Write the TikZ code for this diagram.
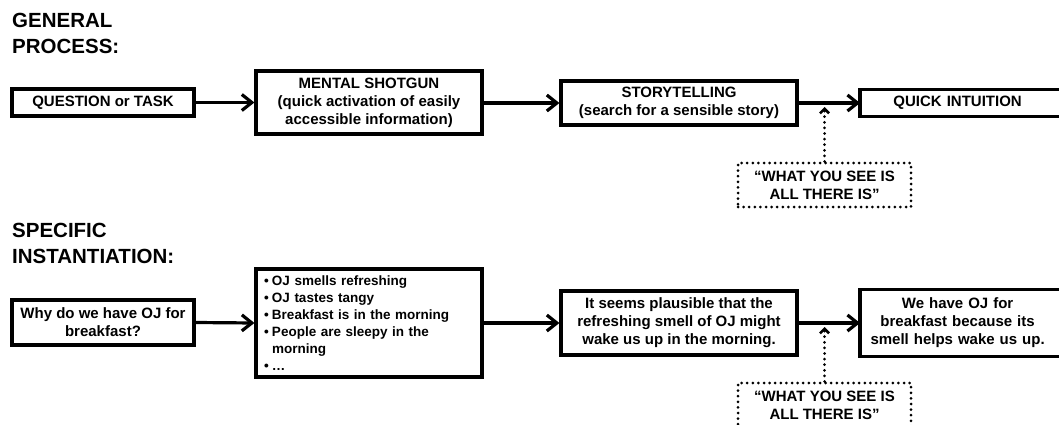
\documentclass[tikz,border=0pt]{standalone}
\usepackage{fontspec}
\setmainfont{Liberation Sans}
\usetikzlibrary{arrows.meta,calc}
\begin{document}
\begin{tikzpicture}[x=1pt,y=-1pt,
  box/.style={draw, line width=3.2pt, align=center, inner sep=0pt,
    font=\bfseries\fontsize{15}{18}\selectfont},
  dotbox/.style={draw, line width=3pt, dash pattern=on 0pt off 5.6pt, line cap=round,
    align=center, inner sep=0pt, minimum width=173pt, minimum height=44pt,
    font=\bfseries\fontsize{15}{18}\selectfont},
  flow/.style={line width=3.2pt, -{Straight Barb[length=10pt,width=16pt,line width=3.2pt]}},
  dotflow/.style={line width=3pt, line cap=round, dash pattern=on 0pt off 5.6pt,
    -{Straight Barb[length=4.5pt,width=9pt,line width=2.6pt]}},
  head/.style={font=\bfseries\fontsize{20.5}{26}\selectfont, align=left, inner sep=0pt, anchor=base west}]
\useasboundingbox (0,0) rectangle (1059,425);

% headings
\node[head] (h1) at (12,54) {GENERAL\\PROCESS:};
\node[head] (h2) at (12,263) {SPECIFIC\\INSTANTIATION:};

% general process
\node[box, minimum width=182pt, minimum height=27pt] (q) at (103,102.5) {QUESTION or TASK};
\node[box, minimum width=226pt, minimum height=63pt] (ms) at (369,102.5)
  {MENTAL SHOTGUN\\(quick activation of easily\\accessible information)};
\node[box, minimum width=236pt, minimum height=44pt] (st) at (679,103)
  {STORYTELLING\\(search for a sensible story)};
\node[box, draw=none, text width=192pt, minimum height=24pt, anchor=west] (qi) at (860,103) {QUICK INTUITION};
\draw[line width=3.2pt] (qi.north west) rectangle ([xshift=40pt]qi.south east);
\node[dotbox] (w1) at (824.5,185) {``WHAT YOU SEE IS\\ALL THERE IS''};

\draw[flow] (q.east) -- (ms.west);
\draw[flow] (ms.east |- st.west) -- (st.west);
\draw[flow] (st.east) -- (qi.west);
\draw[dotflow] (w1.north) -- ($(w1.north |- st.east)+(0,4)$);

% specific instantiation
\node[box, minimum width=182pt, minimum height=45pt] (why) at (103,322.5)
  {Why do we have OJ for\\breakfast?};
\node[box, align=left, text width=210pt, inner xsep=8pt, minimum height=108pt,
  font=\bfseries\fontsize{13.5}{17}\selectfont] (lst) at (369,323)
  {\makebox[8pt][l]{\textbullet}OJ smells refreshing\\
   \makebox[8pt][l]{\textbullet}OJ tastes tangy\\
   \makebox[8pt][l]{\textbullet}Breakfast is in the morning\\
   \makebox[8pt][l]{\textbullet}People are sleepy in the\\
   \makebox[8pt][l]{}morning\\
   \makebox[8pt][l]{\textbullet}\dots};
\node[box, minimum width=236pt, minimum height=64pt] (pl) at (679,323)
  {It seems plausible that the\\refreshing smell of OJ might\\wake us up in the morning.};
\node[box, draw=none, text width=192pt, minimum height=64pt, anchor=west] (res) at (860,323)
  {We have OJ for\\breakfast because its\\smell helps wake us up.};
\draw[line width=3.2pt] (res.north west) rectangle ([xshift=40pt]res.south east);
\node[dotbox] (w2) at (824.5,405) {``WHAT YOU SEE IS\\ALL THERE IS''};

\draw[flow] (why.east) -- (lst.west);
\draw[flow] (lst.east) -- (pl.west);
\draw[flow] (pl.east) -- (res.west);
\draw[dotflow] (w2.north) -- ($(w2.north |- pl.east)+(0,4)$);
\end{tikzpicture}
\end{document}
